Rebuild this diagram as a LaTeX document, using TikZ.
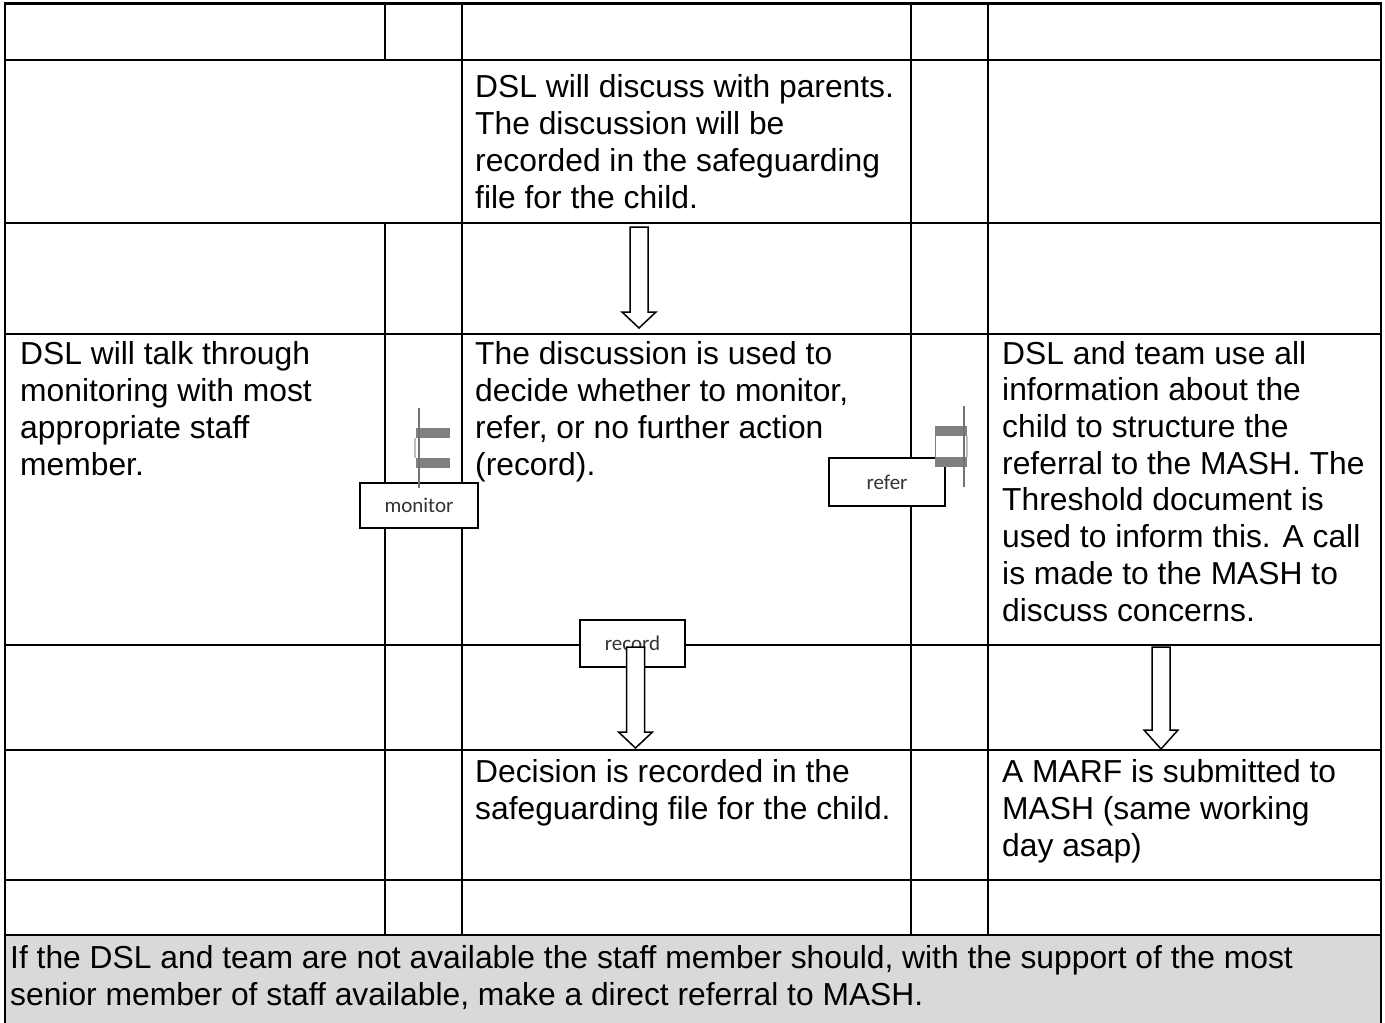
\documentclass[tikz,border=0pt]{standalone}
\usepackage{fontspec}
\setmainfont{Liberation Sans}
\newfontfamily\tagfont{Carlito}

% down block arrow: x, top y, head base y, tip y
\newcommand{\blockdown}[4]{%
  \draw[block arrow] (#1-9,#2) -- (#1+9,#2) -- (#1+9,#3) -- (#1+17,#3)
    -- (#1,#4) -- (#1-17,#3) -- (#1-9,#3) -- cycle;}

\tikzset{
  rule/.style={line width=2pt},
  % placed at the baseline of the last line
  cell/.style={anchor=base west, inner sep=0pt, align=left,
    font=\fontsize{31.8}{36.7}\selectfont},
  tag/.style={draw, line width=1.5pt, fill=white, inner sep=0pt,
    font=\tagfont\fontsize{21}{24}\selectfont, text=black!80},
  block arrow/.style={draw, line width=1.5pt, fill=white},
  stub/.style={fill=black!50},
}

\begin{document}
\begin{tikzpicture}[x=1pt,y=-1pt]
	\useasboundingbox (0,0) rectangle (1385,1023);
	% note band
	\fill[black!15] (5,935) rectangle (1381,1023);
	% rows
	\draw[line width=3pt] (5,3) -- (1381,3);
	\foreach \y in {60,223,334,645,750,880,935}
		\draw[rule] (5,\y) -- (1381,\y);
	% columns
	\draw[rule] (5,2) -- (5,1023);
	\draw[rule] (1381,2) -- (1381,1023);
	\draw[rule] (385,3) -- (385,60);
	\draw[rule] (385,223) -- (385,935);
	\foreach \x in {462,911,988}
		\draw[rule] (\x,3) -- (\x,935);

	\node[cell] (discuss) at (475,208) {DSL will discuss with parents.\\The discussion will be\\recorded in the safeguarding\\file for the child.};
	\node[cell] (talk) at (20,475) {DSL will talk through\\monitoring with most\\appropriate staff\\member.};
	\node[cell] (decide) at (475,475) {The discussion is used to\\decide whether to monitor,\\refer, or no further action\\(record).};
	\node[cell] (structure) at (1002,621) {DSL and team use all\\information about the\\child to structure the\\referral to the MASH. The\\Threshold document is\\used to inform this. A call\\is made to the MASH to\\discuss concerns.};
	\node[cell] (recorded) at (475,819) {Decision is recorded in the\\safeguarding file for the child.};
	\node[cell] (marf) at (1002,856) {A MARF is submitted to\\MASH (same working\\day asap)};
	\node[cell, font=\fontsize{31.8}{36.5}\selectfont] (note) at (10,1005) {If the DSL and team are not available the staff member should, with the support of the most\\senior member of staff available, make a direct referral to MASH.};

	\node[tag, minimum width=118pt, minimum height=45pt] (monitor) at (419,505.5) {monitor};
	\node[tag, minimum width=116pt, minimum height=48pt] (refer) at (887,482) {refer};
	\node[tag, minimum width=105pt, minimum height=47pt] (record) at (632.5,643.5) {record};

	% arrows
	\blockdown{639}{227}{312}{328}
	\blockdown{635.5}{647}{732}{748}
	\blockdown{1161}{647}{730}{749}

	% broken side arrows
	\fill[stub] (416,428) rectangle (450,438);
	\fill[stub] (416,458) rectangle (450,468);
	\draw[black!25, line width=2pt] (415,438) -- (415,458);
	\draw[black!55, line width=1.5pt] (419,408) -- (419,488);
	\fill[stub] (935,426) rectangle (967,436);
	\fill[stub] (935,457) rectangle (967,467);
	\draw[black!50, line width=1.5pt] (935.5,436) -- (935.5,457);
	\draw[black!25, line width=2pt] (967,436) -- (967,457);
	\draw[black!55, line width=1.5pt] (964,406) -- (964,487);
\end{tikzpicture}
\end{document}
